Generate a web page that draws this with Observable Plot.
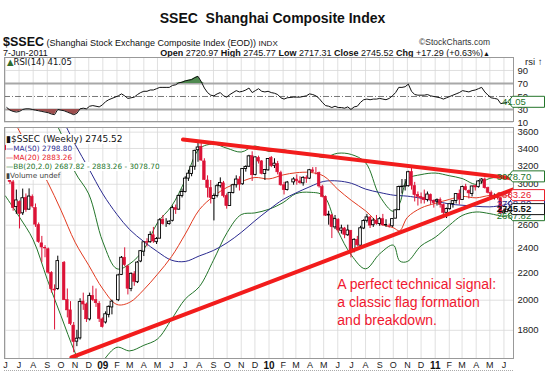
<!DOCTYPE html>
<html><head><meta charset="utf-8">
<script src="https://cdn.jsdelivr.net/npm/d3@7"></script>
<script src="https://cdn.jsdelivr.net/npm/@observablehq/plot@0.6"></script>
<style>
body{margin:0;width:545px;height:380px;position:relative;background:#fff;font-family:"Liberation Sans",Arial,sans-serif;overflow:hidden;color:#111}
.abs{position:absolute;white-space:nowrap}
#title{left:0;width:545px;top:10px;text-align:center;font-weight:bold;font-size:14px;line-height:16px}
.h1{top:36px;left:3px;font-size:9px;line-height:12px}
.h1 b.big{font-size:12.5px}
.small{font-size:8px}
.h2{top:48px;font-size:9px;line-height:11px}
.leg{font-family:"DejaVu Sans",Verdana,sans-serif;font-size:7.3px;line-height:9px;left:6px}
.leg span.bg{background:#fff}
#plots svg{position:absolute;left:0}
</style></head>
<body>
<div id="title" class="abs">SSEC&nbsp; Shanghai Composite Index</div>
<div class="abs h1"><b class="big">$SSEC</b> (Shanghai Stock Exchange Composite Index (EOD)) <span class="small">INDX</span></div>
<div class="abs h1" style="left:auto;right:55px;font-size:8.5px;color:#333">&#169;StockCharts.com</div>
<div class="abs h2" style="left:3px">7-Jun-2011</div>
<div class="abs h2" style="right:55px"><b>Open</b> 2720.97 <b>High</b> 2745.77 <b>Low</b> 2717.31 <b>Close</b> 2745.52 <b>Chg</b> +17.29 (+0.63%)<span style="font-size:7px">&#9650;</span></div>
<div id="plots"></div>
<div class="abs leg" style="top:57px;left:7px;font-size:8.5px;line-height:11px"><span style="color:#2e6b2e">&#9650;</span>RSI(14) 41.05</div>
<div class="abs leg" style="top:134px;font-size:9px;line-height:11px"><span class="bg">&#9646;$SSEC (Weekly) 2745.52</span></div>
<div class="abs leg" style="top:144px;color:#2a2a90"><span class="bg">&#8212;MA(50) 2798.80</span></div>
<div class="abs leg" style="top:153px;color:#e8202a"><span class="bg">&#8212;MA(20) 2883.26</span></div>
<div class="abs leg" style="top:162px;color:#23752a"><span class="bg">&#8212;BB(20,2.0) 2687.82 - 2883.26 - 3078.70</span></div>
<div class="abs leg" style="top:171px;color:#444"><span class="bg">&#9646;Volume undef</span></div>
<div class="abs" style="left:4px;top:370px;width:509px;border-top:1px dotted #aaa"></div>
<script>
// ---- weekly candles (Jun 2008 - Jun 2011), exchange-closed weeks omitted ----
const closedWeeks = ["2008-09-29", "2009-01-26", "2010-02-15"];
const open = [
 3433,3376,3020,2770,2820,2710,2860,2745,2870,2760,2600,2440,2400,2390,2200,2070,2080,2280,2000,1930,1830,1730,1750,1990,1970,1870,2030,2000,1975,1870,
 1850,1900,1950,2000,2185,2320,2250,2080,2190,2130,2290,2370,2450,2450,2510,2450,2480,2650,2610,2610,2640,2760,2745,2880,2920,3060,3110,3190,3380,3420,3250,3040,2960,2850,2880,2980,3010,2880,2780,2910,2990,3050,3000,3165,3190,3310,3100,3290,3250,3110,3150,
 3290,3200,3220,3120,2990,2940,3020,3050,3030,3010,3065,3060,3150,3130,3120,2970,2870,2690,2690,2580,2650,2550,2570,2510,2550,2380,2470,2420,2570,2640,2670,2600,2640,2610,2655,2600,2590,2590,2660,2740,2970,2975,2980,3130,2980,2890,2870,2860,2840,2890,2830,
 2825,2840,2790,2715,2750,2800,2830,2900,2840,2970,2930,2900,2980,2970,3030,3050,2960,2910,2865,2870,2855,2710,2721];
const high = [
 3459,3380,3060,2940,2830,2950,2900,2952,2890,2800,2620,2500,2420,2400,2210,2110,2333,2290,2080,1990,1850,1800,2010,2050,1980,2050,2100,2080,1990,1880,
 1920,1960,2000,2190,2330,2402,2260,2200,2210,2290,2380,2450,2480,2540,2580,2490,2660,2690,2660,2640,2780,2790,2890,2950,3080,3150,3190,3380,3460,3478,3280,3090,3040,2900,3000,3068,3030,2900,2911,3000,3090,3080,3170,3200,3320,3361,3300,3310,3260,3160,3280,
 3306,3280,3250,3140,3020,3030,3070,3100,3080,3080,3090,3160,3180,3181,3130,2990,2880,2730,2700,2690,2660,2600,2580,2600,2550,2480,2500,2590,2650,2700,2680,2660,2690,2670,2700,2650,2610,2660,2740,2980,3050,3050,3140,3186,3020,2920,2910,2940,2920,2900,2840,
 2850,2860,2800,2760,2800,2830,2900,2940,2980,3000,2940,2980,2990,3040,3060,3067,2970,2930,2900,2900,2860,2750,2746];
const low = [
 3316,2998,2730,2700,2566,2690,2720,2740,2760,2580,2440,2280,2320,2190,2050,1802,2070,2000,1880,1830,1664,1700,1740,1930,1850,1860,1990,1950,1850,1814,
 1840,1880,1900,1990,2180,2250,2037,2060,2100,2120,2280,2330,2410,2440,2440,2430,2480,2600,2580,2600,2630,2700,2740,2860,2910,3030,3080,3150,3240,3250,3040,2860,2800,2639,2860,2960,2860,2750,2780,2900,2960,2930,2990,3130,3180,3030,3090,3220,3100,3040,3140,
 3180,3170,3100,2980,2890,2930,2990,2990,3000,2980,3010,3050,3120,3100,2960,2860,2680,2600,2481,2560,2530,2520,2480,2500,2319,2360,2410,2410,2560,2620,2570,2580,2600,2590,2590,2580,2573,2580,2660,2740,2900,2930,2970,2940,2820,2780,2800,2800,2820,2790,2760,
 2780,2760,2680,2661,2740,2760,2800,2790,2840,2930,2850,2870,2930,2960,3000,2950,2900,2850,2840,2840,2700,2700,2717];
const close = [
 3379,3024,2760,2835,2703,2857,2740,2874,2775,2605,2450,2405,2397,2202,2079,2075,2293,2000,1930,1840,1728,1748,1987,1970,1871,2030,2000,1979,1873,1820,
 1904,1954,1990,2181,2320,2261,2082,2193,2133,2281,2374,2449,2445,2513,2456,2477,2645,2609,2610,2632,2760,2743,2880,2920,3060,3113,3189,3372,3412,3260,3046,2960,2860,2880,2980,3014,2880,2779,2911,2990,3050,2996,3165,3187,3308,3096,3296,3248,3111,3154,3277,
 3196,3224,3128,2989,2939,3018,3051,3031,3013,3068,3059,3151,3131,3130,2977,2870,2688,2697,2583,2656,2553,2570,2514,2552,2382,2470,2424,2572,2638,2672,2596,2642,2611,2655,2598,2598,2589,2656,2738,2971,2975,2978,3129,2985,2888,2871,2857,2837,2894,2835,2808,
 2838,2791,2715,2752,2798,2828,2899,2842,2971,2938,2906,2977,2967,3030,3050,2959,2911,2863,2871,2858,2709,2728,2745.52];
const rsi14 = [
 33,29,27,26,27,30,31,31,30,29,28,27,26,25,23,22,30,
 28,26,24,22,24,31,32,31,35,36,35,34,37,42,45,47,
 51,54,51,47,48,49,53,56,58,58,60,60,62,64,64,64,64,67,68,71,72,74,75,76,79,81,73,63,56,52,51,54,56,51,49,53,56,59,57,58,60,63,56,59,62,58,57,58,56,55,53,48,46,48,
 49,49,49,50,51,54,53,51,47,41,36,35,33,35,33,33,32,34,30,34,35,41,45,46,45,46,46,47,46,45,47,51,56,64,64,65,69,58,53,52,52,52,53,51,50,49,48,46,48,50,52,54,56,59,58,57,59,60,62,64,57,52,48,47,46,39,40,41.05];

// ---- overlays, read at sample dates ----
const indDates = ["2008-06-01","2008-07-01","2008-08-01","2008-09-01","2008-10-01","2008-11-01","2008-12-01",
 "2009-01-01","2009-02-01","2009-03-01","2009-04-01","2009-05-01","2009-06-01","2009-07-01","2009-08-01","2009-09-01","2009-10-01","2009-11-01","2009-12-01",
 "2010-01-01","2010-02-01","2010-03-01","2010-04-01","2010-05-01","2010-06-01","2010-07-01","2010-08-01","2010-09-01","2010-10-01","2010-10-15","2010-11-01","2010-12-01",
 "2011-01-01","2011-02-01","2011-03-01","2011-04-01","2011-05-01","2011-06-01","2011-06-08"];
const ma50 = [4750,4550,4350,4100,3800,3450,3170, 2900,2700,2560,2455,2370,2300,2290,2335,2380,2445,2535,2640,
 2745,2845,2910,2975,3030,3035,3010,2950,2915,2888,2883,2878,2857, 2830,2800,2788,2778,2772,2790,2798.80];
const ma20 = [3980,3620,3310,3030,2740,2450,2260, 2080,1970,1985,2075,2190,2330,2520,2745,2876,2968,3028,3072,
 3057,3100,3123,3127,3088,2948,2835,2734,2616,2577,2550,2672,2761, 2806,2845,2875,2861,2885,2879,2883.26];
const bbUpper = [5080,4560,4150,3910,3586,3130,2900, 2452,2232,2271,2388,2622,2779,3044,3397,3452,3402,3358,3430,
 3365,3386,3343,3337,3294,3344,3329,3236,2880,2729,2806,3054,3103, 3120,3091,3061,2999,3063,3077,3078.70];
const bbLower = [2880,2680,2470,2150,1894,1665,1507, 1616,1696,1675,1708,1746,1871,2008,2097,2300,2534,2698,2714,
 2749,2814,2903,2917,2882,2552,2341,2232,2352,2425,2294,2290,2419, 2492,2599,2689,2723,2707,2681,2687.82];

// ---- flag trendlines (drawn) ----
const flagTopDates = ["2009-06-26","2011-06-22"], flagTopValues = [3509, 3061];
const flagBottomDates = ["2008-10-24","2011-06-22"], flagBottomValues = [1637, 2947];

const priceTicks = [1800,2000,2200,2400,2600,3000,3200,3400,3600];
const rsiTicks = [10,30,50,70,90];
const annotation = "A perfect technical signal:\na classic flag formation\nand breakdown.";

// ---- build rows ----
const fmt = d3.utcFormat("%Y-%m-%d");
const mondays = d3.utcMonday.range(new Date(Date.UTC(2008,5,2)), new Date(Date.UTC(2011,5,8)))
  .filter(d => !closedWeeks.includes(fmt(d)));
const bars = mondays.map((m,i) => ({
  date: d3.utcDay.offset(m, 2),
  open: open[i], high: high[i], low: low[i], close: close[i], rsi: rsi14[i],
  prev: i ? close[i-1] : open[i]
}));
bars.forEach(b => {
  b.color = b.close >= b.prev ? "#000" : "#dc1236";
  b.hollow = b.close >= b.open;
  b.x1 = new Date(+b.date - 2.9*864e5);
  b.x2 = new Date(+b.date + 2.9*864e5);
});
const ind = indDates.map((d,i) => ({date: new Date(d), ma50: ma50[i], ma20: ma20[i], up: bbUpper[i], lo: bbLower[i]}));
const toRows = (ds, vs) => ds.map((d,i) => ({date: new Date(d), value: vs[i]}));

const xDomain = [new Date("2008-05-30"), new Date("2011-06-22")];
const months = d3.utcMonth.range(new Date("2008-06-01"), new Date("2011-06-15"));
const monthLetters = months.filter(d => d.getUTCMonth() !== 0);
const years = months.filter(d => d.getUTCMonth() === 0);
const letter = d => "JFMAMJJASOND"[d.getUTCMonth()];
const FONT = "Liberation Sans, Arial, sans-serif";

// ---- RSI panel ----
const rsiPlot = Plot.plot({
  width: 545, height: 70, marginTop: 2, marginBottom: 4, marginLeft: 4, marginRight: 32,
  style: {fontFamily: FONT, fontSize: "9.5px", background: "transparent", overflow: "visible"},
  x: {type: "utc", domain: xDomain, axis: null},
  y: {domain: [11.5, 110], axis: null},
  marks: [
    Plot.gridX(months, {stroke: "#d8d8d8", strokeOpacity: 1, strokeWidth: 0.8}),
    Plot.ruleY([10, 90], {stroke: "#d8d8d8", strokeWidth: 0.8}),
    Plot.ruleY([30, 70], {stroke: "#a8a8a8", strokeWidth: 2}),
    Plot.ruleY([50], {stroke: "#555", strokeWidth: 0.8, strokeDasharray: "6,2,1,2"}),
    Plot.areaY(bars, {x: "date", y1: 70, y2: d => Math.max(d.rsi, 70), fill: "#4f8a50"}),
    Plot.areaY(bars, {x: "date", y1: 30, y2: d => Math.min(d.rsi, 30), fill: "#9d4e4e"}),
    Plot.lineY(bars, {x: "date", y: "rsi", stroke: "#111", strokeWidth: 1}),
    Plot.axisY(rsiTicks, {anchor: "right", tickSize: 0, tickPadding: 4, fill: "#222", fontSize: 9.5}),
    Plot.frame({stroke: "#999"})
  ]
});

// ---- price panel ----
const pricePlot = Plot.plot({
  width: 545, height: 250, marginTop: 2, marginBottom: 17, marginLeft: 4, marginRight: 32,
  style: {fontFamily: FONT, fontSize: "9.5px", background: "transparent", overflow: "visible"},
  x: {type: "utc", domain: xDomain, axis: null},
  y: {type: "log", domain: [1631, 3659], axis: null},
  marks: [
    Plot.gridX(months, {stroke: "#d8d8d8", strokeOpacity: 1, strokeWidth: 0.8}),
    Plot.gridY(priceTicks, {stroke: "#d8d8d8", strokeOpacity: 1, strokeWidth: 0.8}),
    Plot.line(ind, {x: "date", y: "up", stroke: "#23752a", strokeWidth: 1, curve: "catmull-rom", clip: true}),
    Plot.line(ind, {x: "date", y: "lo", stroke: "#23752a", strokeWidth: 1, curve: "catmull-rom", clip: true}),
    Plot.line(ind, {x: "date", y: "ma50", stroke: "#2a2a90", strokeWidth: 1, curve: "catmull-rom", clip: true}),
    Plot.line(ind, {x: "date", y: "ma20", stroke: "#e23a20", strokeWidth: 1, curve: "catmull-rom", clip: true}),
    Plot.ruleX(bars, {x: "date", y1: "low", y2: "high", stroke: "color", strokeWidth: 1, clip: true}),
    Plot.rect(bars.filter(d => d.hollow), {x1: "x1", x2: "x2", y1: "open", y2: "close", fill: "#fff", stroke: "color", strokeWidth: 0.9, clip: true}),
    Plot.rect(bars.filter(d => !d.hollow), {x1: "x1", x2: "x2", y1: "open", y2: "close", fill: "color", stroke: "color", strokeWidth: 0.6, clip: true}),
    Plot.line(toRows(flagTopDates, flagTopValues), {x: "date", y: "value", stroke: "#f21c1c", strokeWidth: 4, clip: true}),
    Plot.line(toRows(flagBottomDates, flagBottomValues), {x: "date", y: "value", stroke: "#f21c1c", strokeWidth: 4, clip: true}),
    Plot.text([annotation], {x: new Date("2010-05-31"), y: 2173, text: d => d, textAnchor: "start", lineAnchor: "top", lineHeight: 1.29, fill: "#f01830", fontSize: 14, fontFamily: FONT}),
    Plot.axisY(priceTicks, {anchor: "right", tickSize: 0, tickPadding: 4, fill: "#222", fontSize: 9.5, tickFormat: d => String(d)}),
    Plot.axisX(monthLetters, {anchor: "bottom", tickSize: 0, tickPadding: 3, fill: "#222", fontSize: 9, tickFormat: letter}),
    Plot.axisX(years, {anchor: "bottom", tickSize: 0, tickPadding: 3, fill: "#111", fontSize: 10, fontWeight: "bold", tickFormat: d3.utcFormat("%y")}),
    Plot.frame({stroke: "#999"})
  ]
});

const host = document.getElementById("plots");
rsiPlot.style.top = "55px";
pricePlot.style.top = "125px";
host.appendChild(rsiPlot);
host.appendChild(pricePlot);

// value tags on the right axis, placed with the plots' own y scales
function tag(svg, scale, value, label, color, textColor, bold) {
  const y = scale.apply(value);
  const g = d3.select(svg).append("g").attr("transform", `translate(508,${y})`);
  g.append("path").attr("d", "M0,0L4.5,-5.5H36.5V5.5H4.5Z").attr("fill", "#fff").attr("stroke", color).attr("stroke-width", 1);
  g.append("text").attr("x", 6).attr("dy", "0.35em").attr("fill", textColor)
    .attr("font-size", 9.5).attr("font-family", FONT).attr("font-weight", bold ? "bold" : "normal").text(label);
}
const ys = pricePlot.scale("y");
tag(pricePlot, ys, 2687.82, "2687.82", "#23752a", "#23752a");
tag(pricePlot, ys, 2798.80, "2798.80", "#2a2a90", "#2a2a90");
tag(pricePlot, ys, 2883.26, "2883.26", "#e8202a", "#e8202a");
tag(pricePlot, ys, 3078.70, "3078.70", "#23752a", "#23752a");
tag(pricePlot, ys, 2745.52, "2745.52", "#111", "#111", true);
tag(rsiPlot, rsiPlot.scale("y"), 41.05, "41.05", "#23752a", "#23752a");
</script>
</body></html>
